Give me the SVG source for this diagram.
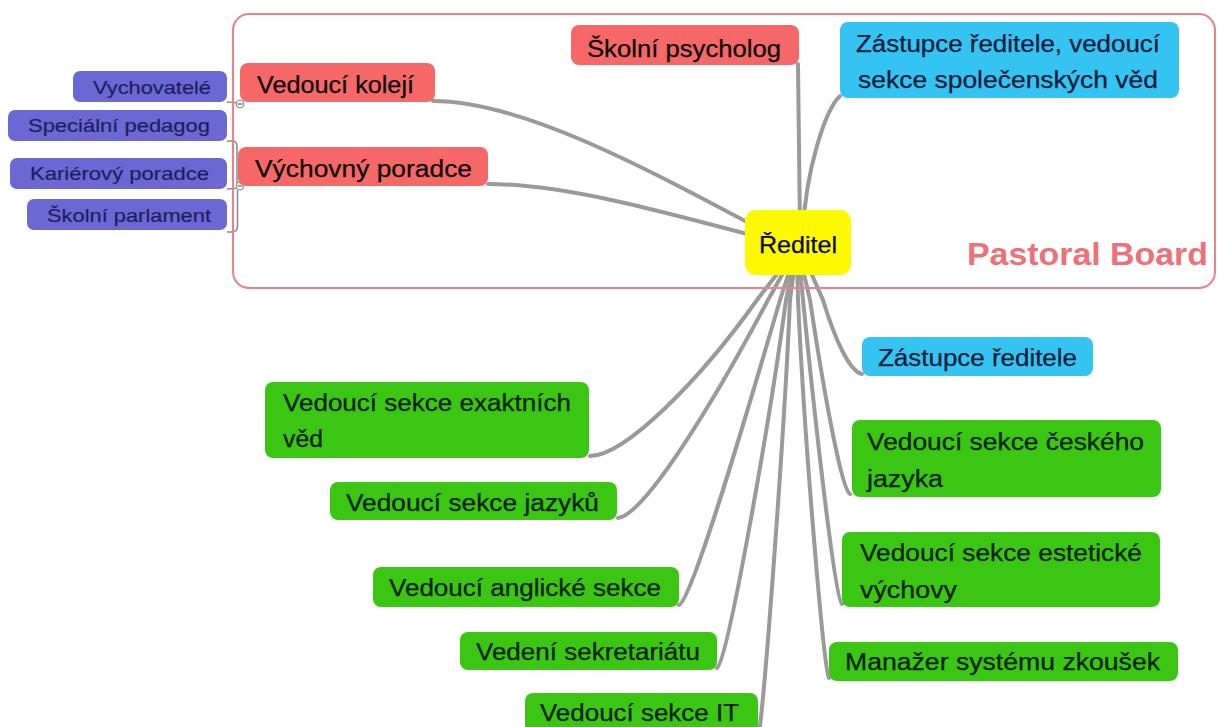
<svg xmlns="http://www.w3.org/2000/svg" width="1218" height="727" viewBox="0 0 1218 727">
<style>
text{font-family:"Liberation Sans",Arial,sans-serif;font-size:23px;fill:#0a0a0a;stroke:#0a0a0a;stroke-width:0.25}
.red{fill:#f66767}
.blue{fill:#35c4f2}
.green{fill:#3bc614}
.purple{fill:#6b68d3}
.yellow{fill:#fdf900}
.small{font-size:19px;fill:#1e1e5e;stroke:#1e1e5e;stroke-width:0.2}
.bt{fill:#0b1b3b;stroke:#0b1b3b}
.gt{fill:#082003;stroke:#082003}
.conn{fill:none;stroke:#9a9a9a;stroke-width:4;stroke-linecap:round}
.thin{fill:none;stroke:#8a8a8a;stroke-width:1.5}
.mk{fill:#f2f2f2;stroke:#8a8a8a;stroke-width:1}
</style>
<rect width="1218" height="727" fill="#ffffff"/>
<g id="connectors">
<path class="conn" d="M 433 101 C 520 101 640 165 762 230"/>
<path class="conn" d="M 488 184 C 560 184 650 208 762 238"/>
<path class="conn" d="M 798 64 L 800 230"/>
<path class="conn" d="M 840 96 C 825 110 806 170 803 230"/>
<path class="conn" d="M 590 456 C 625 456 700 380 757 300 L 797 248"/>
<path class="conn" d="M 618 518 C 645 515 715 400 768 300 L 797 248"/>
<path class="conn" d="M 679 605 C 692 600 745 420 780 300 L 797 248"/>
<path class="conn" d="M 717 668 C 728 660 770 420 786 300 L 797 248"/>
<path class="conn" d="M 758 740 C 765 700 785 420 790 300 L 797 248"/>
<path class="conn" d="M 862 374 C 850 372 835 340 823 300 L 800 248"/>
<path class="conn" d="M 850 494 C 842 490 825 400 810 300 L 798 248"/>
<path class="conn" d="M 842 604 C 835 600 815 420 803 300 L 798 248"/>
<path class="conn" d="M 829 678 C 824 670 805 450 798 300 L 797 248"/>
<path class="thin" d="M 227 102 L 240 103"/>
<path class="thin" d="M 227 141 L 232 141 Q 237 141 237 146 L 237 183"/>
<path class="thin" d="M 227 189 L 240 188"/>
<path class="thin" d="M 227 232 L 232 232 Q 237.5 232 237.5 226 L 237.5 190"/>
</g>
<g id="pastoral-board">
<rect x="233" y="14" width="982" height="274" rx="16" fill="none" stroke="#ee8088" stroke-width="2"/>
<text x="967" y="265" textLength="241" lengthAdjust="spacingAndGlyphs" style="font-size:31px;font-weight:bold;fill:#ec7178;stroke:none">Pastoral Board</text>
</g>
<g id="markers">
<circle class="mk" cx="240" cy="104" r="4"/><line x1="237.5" y1="104" x2="242.5" y2="104" stroke="#555" stroke-width="1"/>
<circle class="mk" cx="240" cy="186" r="4"/><line x1="237.5" y1="186" x2="242.5" y2="186" stroke="#555" stroke-width="1"/>
</g>
<g id="n-vychovatele"><rect class="purple" x="73" y="71" width="154" height="31" rx="7"/><text class="small" x="93" y="94" textLength="118" lengthAdjust="spacingAndGlyphs">Vychovatelé</text></g>
<g id="n-specialni"><rect class="purple" x="8" y="110" width="219" height="31" rx="7"/><text class="small" x="28" y="132" textLength="182" lengthAdjust="spacingAndGlyphs">Speciální pedagog</text></g>
<g id="n-karierovy"><rect class="purple" x="10" y="158" width="217" height="31" rx="7"/><text class="small" x="30" y="180" textLength="179" lengthAdjust="spacingAndGlyphs">Kariérový poradce</text></g>
<g id="n-parlament"><rect class="purple" x="27" y="199" width="200" height="31" rx="7"/><text class="small" x="47" y="222" textLength="164" lengthAdjust="spacingAndGlyphs">Školní parlament</text></g>
<g id="n-koleje"><rect class="red" x="240" y="63" width="195" height="39" rx="8"/><text x="257" y="93" textLength="157" lengthAdjust="spacingAndGlyphs">Vedoucí kolejí</text></g>
<g id="n-vychovny"><rect class="red" x="238" y="147" width="250" height="39" rx="8"/><text x="255" y="177" textLength="217" lengthAdjust="spacingAndGlyphs">Výchovný poradce</text></g>
<g id="n-psycholog"><rect class="red" x="571" y="25" width="228" height="40" rx="8"/><text x="587" y="57" textLength="194" lengthAdjust="spacingAndGlyphs">Školní psycholog</text></g>
<g id="n-zastupce-spol"><rect class="blue" x="840" y="22" width="339" height="76" rx="8"/><text class="bt" x="856" y="52" textLength="304" lengthAdjust="spacingAndGlyphs">Zástupce ředitele, vedoucí</text><text class="bt" x="858" y="88" textLength="300" lengthAdjust="spacingAndGlyphs">sekce společenských věd</text></g>
<g id="n-reditel"><rect class="yellow" x="745" y="210" width="106" height="65" rx="11"/><text x="759" y="253" textLength="78" lengthAdjust="spacingAndGlyphs" style="font-size:24px">Ředitel</text></g>
<g id="n-zastupce"><rect class="blue" x="862" y="337" width="231" height="39" rx="8"/><text class="bt" x="878" y="366" textLength="199" lengthAdjust="spacingAndGlyphs">Zástupce ředitele</text></g>
<g id="n-exaktni"><rect class="green" x="265" y="382" width="324" height="76" rx="8"/><text class="gt" x="283" y="411" textLength="288" lengthAdjust="spacingAndGlyphs">Vedoucí sekce exaktních</text><text class="gt" x="283" y="447" textLength="40" lengthAdjust="spacingAndGlyphs">věd</text></g>
<g id="n-jazyky"><rect class="green" x="330" y="482" width="287" height="38" rx="8"/><text class="gt" x="346" y="511" textLength="253" lengthAdjust="spacingAndGlyphs">Vedoucí sekce jazyků</text></g>
<g id="n-anglicka"><rect class="green" x="373" y="567" width="306" height="40" rx="8"/><text class="gt" x="389" y="596" textLength="272" lengthAdjust="spacingAndGlyphs">Vedoucí anglické sekce</text></g>
<g id="n-sekretariat"><rect class="green" x="460" y="632" width="257" height="38" rx="8"/><text class="gt" x="476" y="660" textLength="224" lengthAdjust="spacingAndGlyphs">Vedení sekretariátu</text></g>
<g id="n-it"><rect class="green" x="525" y="693" width="233" height="40" rx="8"/><text class="gt" x="540" y="721" textLength="199" lengthAdjust="spacingAndGlyphs">Vedoucí sekce IT</text></g>
<g id="n-cesky"><rect class="green" x="852" y="420" width="309" height="77" rx="8"/><text class="gt" x="867" y="450" textLength="277" lengthAdjust="spacingAndGlyphs">Vedoucí sekce českého</text><text class="gt" x="867" y="487" textLength="76" lengthAdjust="spacingAndGlyphs">jazyka</text></g>
<g id="n-esteticka"><rect class="green" x="842" y="532" width="318" height="75" rx="8"/><text class="gt" x="860" y="561" textLength="282" lengthAdjust="spacingAndGlyphs">Vedoucí sekce estetické</text><text class="gt" x="860" y="598" textLength="97" lengthAdjust="spacingAndGlyphs">výchovy</text></g>
<g id="n-manazer"><rect class="green" x="829" y="642" width="349" height="39" rx="8"/><text class="gt" x="845" y="670" textLength="315" lengthAdjust="spacingAndGlyphs">Manažer systému zkoušek</text></g>
</svg>
